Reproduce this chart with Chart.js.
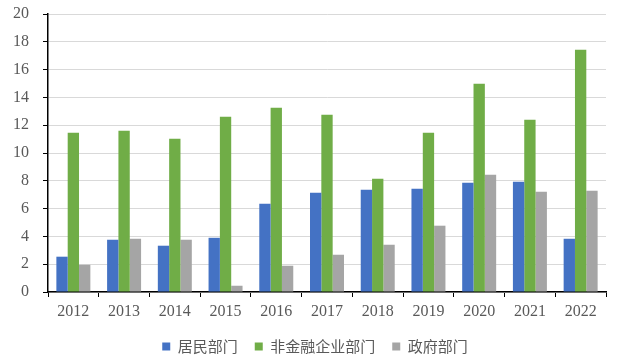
<!DOCTYPE html>
<html>
<head>
<meta charset="utf-8">
<script src="https://cdn.jsdelivr.net/npm/chart.js@4"></script>
<style>
    html, body { margin: 0; padding: 0; background: #fff; }
    #wrap { width: 622px; height: 362px; }
</style>
</head>
<body>
<div id="wrap"><canvas id="chart"></canvas></div>
<script>
// data
const years = ['2012', '2013', '2014', '2015', '2016', '2017', '2018', '2019', '2020', '2021', '2022'];
const household = [2.54, 3.76, 3.33, 3.9, 6.35, 7.14, 7.36, 7.43, 7.86, 7.93, 3.83];
const corporate = [11.46, 11.6, 11.03, 12.6, 13.25, 12.75, 8.15, 11.46, 14.98, 12.4, 17.43];
const government = [1.96, 3.83, 3.76, 0.45, 1.89, 2.68, 3.4, 4.77, 8.44, 7.22, 7.29];
const seriesNames = ['居民部门', '非金融企业部门', '政府部门'];
const yMax = 20;
const yStep = 2;

const tickFont = { family: '"Liberation Serif", "DejaVu Serif", serif', size: 16 };
const legendFont = { family: '"Noto Sans CJK SC", sans-serif', size: 15 };

// keep the legend's wide item spacing without letting it take too much height,
// and nudge it a little to the right like the original
const legendFix = {
    id: 'legendFix',
    beforeLayout(chart) {
        const legend = chart.legend;
        if (legend && !legend._fitPatched) {
            const origFit = legend.fit;
            legend.fit = function () {
                origFit.call(this);
                this.height = 40;
                this.bottom = this.top + 40;
            };
            legend._fitPatched = true;
        }
    },
    afterLayout(chart) {
        if (chart.legend) {
            chart.legend.left += 7;
            chart.legend.right += 7;
        }
    }
};

new Chart(document.getElementById('chart'), {
    type: 'bar',
    data: {
        labels: years,
        datasets: [
            { label: seriesNames[0], data: household, backgroundColor: '#4472C4' },
            { label: seriesNames[1], data: corporate, backgroundColor: '#70AD47' },
            { label: seriesNames[2], data: government, backgroundColor: '#A5A5A5' }
        ]
    },
    plugins: [legendFix],
    options: {
        responsive: true,
        maintainAspectRatio: false,
        animation: false,
        layout: { padding: { left: 10, right: 16, top: 14, bottom: 0 } },
        datasets: { bar: { categoryPercentage: 0.67, barPercentage: 1.0 } },
        plugins: {
            tooltip: { enabled: false },
            legend: {
                position: 'bottom',
                labels: {
                    usePointStyle: true,
                    pointStyle: 'rect',
                    boxWidth: 8,
                    boxHeight: 8,
                    padding: 17,
                    color: '#595959',
                    font: legendFont
                }
            }
        },
        scales: {
            x: {
                grid: { drawOnChartArea: false, drawTicks: true, tickLength: 5, tickColor: '#000', offset: true },
                border: { color: '#000', width: 1.5 },
                ticks: { color: '#595959', font: tickFont, padding: 5 },
                afterFit: (scale) => { scale.height = 30; }
            },
            y: {
                min: 0,
                max: yMax,
                grid: { color: '#d9d9d9', lineWidth: 1, tickLength: 5, tickColor: '#000' },
                border: { color: '#000', width: 1.5 },
                ticks: { stepSize: yStep, color: '#595959', font: tickFont, padding: 14 },
                afterFit: (scale) => {
                    scale.width = 38;
                    scale.paddingTop = 0;
                    scale.paddingBottom = 0;
                }
            }
        }
    }
});
</script>
</body>
</html>
